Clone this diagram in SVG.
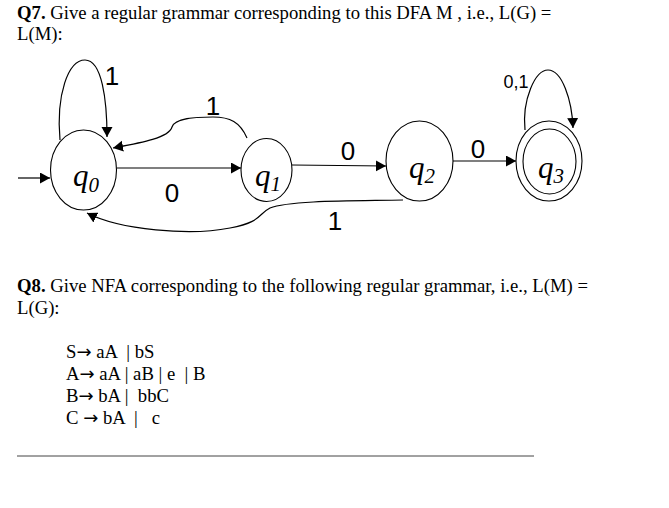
<svg xmlns="http://www.w3.org/2000/svg" width="669" height="508" viewBox="0 0 669 508">
<style>
.t{font-family:"Liberation Serif","Times New Roman",serif;font-size:18.7px;fill:#000}
.b{font-weight:bold}
.ar{font-family:"DejaVu Sans",sans-serif;font-size:18px}
.st{fill:#fff;stroke:#000;stroke-width:1.1}
.q{font-family:"Liberation Serif","Times New Roman",serif;font-style:italic;font-size:31px;fill:#000}
.qs{font-size:21px}
.lb{font-family:"Liberation Sans",Arial,sans-serif;font-size:26px;fill:#000}
.lbs{font-family:"Liberation Sans",Arial,sans-serif;font-size:18px;fill:#000}
.e{fill:none;stroke:#000;stroke-width:1.2}
</style>
<defs>
<marker id="ah" markerWidth="11" markerHeight="12" refX="10" refY="5.5" orient="auto" markerUnits="userSpaceOnUse">
<path d="M0,0 L10,5.5 L0,11 Z" fill="#000"/>
</marker>
</defs>
<rect width="669" height="508" fill="#fff"/>
<text class="t" x="17" y="19"><tspan class="b">Q7.</tspan> Give a regular grammar corresponding to this DFA M , i.e., L(G) =</text>
<text class="t" x="17" y="40">L(M):</text>

<g id="connectors">
<path class="e" d="M18,178 L50,178" marker-end="url(#ah)"/>
<path class="e" d="M117,168 L241,168" marker-end="url(#ah)"/>
<path class="e" d="M292,165 L386,166" marker-end="url(#ah)"/>
<path class="e" d="M453,161 L516,161" marker-end="url(#ah)"/>
<path class="e" d="M60,140 C56,95 68,60 85,60 C102,60 107,100 107,137" marker-end="url(#ah)"/>
<path class="e" d="M247,138 C240,122 230,117 213,117 C195,117 175,118 172,127 C169,138 140,143 113,148" marker-end="url(#ah)"/>
<path class="e" d="M403,200 C360,201 290,200 270,208 C258,214 262,222 230,228 C190,236 120,230 87,213" marker-end="url(#ah)"/>
<path class="e" d="M525,130 C522,100 535,70 548,70 C562,70 572,100 573,128" marker-end="url(#ah)"/>
<text class="lb" x="112" y="85" text-anchor="middle">1</text>
<text class="lb" x="213" y="115" text-anchor="middle">1</text>
<text class="lb" x="172" y="202" text-anchor="middle">0</text>
<text class="lb" x="335" y="230" text-anchor="middle">1</text>
<text class="lb" x="348" y="160" text-anchor="middle">0</text>
<text class="lb" x="478" y="158" text-anchor="middle">0</text>
<text class="lbs" x="516" y="88" text-anchor="middle">0,1</text>
</g>

<g id="q0">
<ellipse class="st" cx="83.5" cy="170" rx="33" ry="40"/>
<text class="q" x="73" y="186">q<tspan class="qs" dy="6">0</tspan></text>
</g>
<g id="q1">
<ellipse class="st" cx="266.5" cy="170" rx="25.5" ry="31.5"/>
<text class="q" x="255" y="186">q<tspan class="qs" dy="5">1</tspan></text>
</g>
<g id="q2">
<ellipse class="st" cx="419.5" cy="161" rx="33.5" ry="40"/>
<text class="q" x="409" y="178">q<tspan class="qs" dy="5">2</tspan></text>
</g>
<g id="q3">
<ellipse class="st" cx="549" cy="161" rx="33" ry="40"/>
<ellipse class="st" cx="549.5" cy="161.5" rx="26.5" ry="32.5"/>
<text class="q" x="538" y="178">q<tspan class="qs" dy="5">3</tspan></text>
</g>

<text class="t" x="17" y="292"><tspan class="b">Q8.</tspan> Give NFA corresponding to the following regular grammar, i.e., L(M) =</text>
<text class="t" x="17" y="314">L(G):</text>
<text class="t" x="66" y="358" xml:space="preserve">S<tspan class="ar">→</tspan> aA  | bS</text>
<text class="t" x="66" y="380" xml:space="preserve">A<tspan class="ar">→</tspan> aA | aB | e  | B</text>
<text class="t" x="66" y="402" xml:space="preserve">B<tspan class="ar">→</tspan> bA |  bbC</text>
<text class="t" x="66" y="424" xml:space="preserve">C <tspan class="ar">→</tspan> bA  |   c</text>
<line x1="17" y1="456" x2="534" y2="456" stroke="#444" stroke-width="1"/>
</svg>
